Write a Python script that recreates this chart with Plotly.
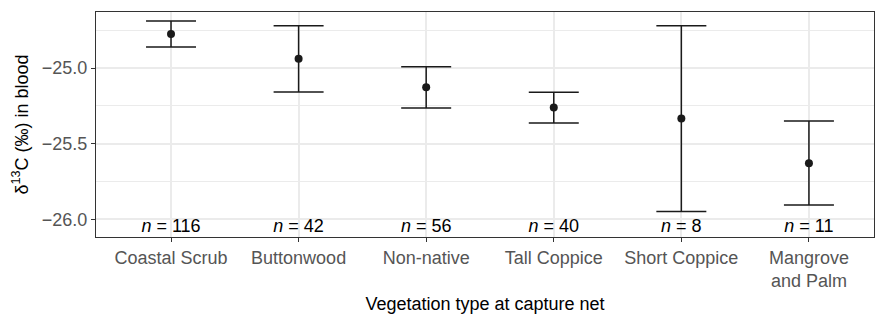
import plotly.graph_objects as go

categories = ["Coastal Scrub", "Buttonwood", "Non-native", "Tall Coppice", "Short Coppice", "Mangrove<br>and Palm"]
means = [-24.775, -24.938, -25.126, -25.260, -25.333, -25.629]
upper = [-24.689, -24.720, -24.991, -25.159, -24.720, -25.349]
lower = [-24.861, -25.157, -25.263, -25.362, -25.947, -25.905]
n_labels = [116, 42, 56, 40, 8, 11]
y_ticks = [-25.0, -25.5, -26.0]
y_minor = [-24.75, -25.25, -25.75]

xpos = list(range(1, len(categories) + 1))
err_plus = [u - m for u, m in zip(upper, means)]
err_minus = [m - l for m, l in zip(means, lower)]

FONT = "Liberation Sans, Arial, sans-serif"
INK = "#1a1a1a"
GRAY = "#555555"

fig = go.Figure()
fig.add_trace(go.Scatter(
    x=xpos, y=means, mode="markers",
    marker=dict(size=8, color=INK),
    error_y=dict(type="data", symmetric=False, array=err_plus, arrayminus=err_minus,
                 width=25, thickness=1.5, color=INK),
    showlegend=False, hoverinfo="skip",
))
fig.add_trace(go.Scatter(
    x=xpos, y=[-26.05] * len(xpos), mode="text",
    text=[f"<i>n</i> = {n}" for n in n_labels],
    textposition="middle center",
    textfont=dict(family=FONT, size=18, color="black"),
    showlegend=False, hoverinfo="skip",
))

fig.update_layout(
    width=875, height=314,
    margin=dict(l=96, r=1, t=12, b=77),
    paper_bgcolor="white", plot_bgcolor="white",
    font=dict(family=FONT, color="black"),
    xaxis=dict(
        range=[0.412, 6.51], tickvals=xpos, ticktext=categories,
        tickfont=dict(size=18, color=GRAY),
        ticks="outside", ticklen=4, tickwidth=1.1, tickcolor="#333333",
        showgrid=True, gridcolor="#EBEBEB", gridwidth=2,
        showline=True, linecolor="#333333", linewidth=1.1, mirror=True,
        zeroline=False, automargin=False,
        title=dict(text="Vegetation type at capture net", font=dict(size=18, color="black"), standoff=13),
    ),
    yaxis=dict(
        range=[-26.116, -24.629], tickvals=y_ticks,
        ticktext=[f"\u2212{abs(v):.1f}" for v in y_ticks],
        tickfont=dict(size=18, color=GRAY),
        ticks="outside", ticklen=4, tickwidth=1.1, tickcolor="#333333",
        showgrid=True, gridcolor="#EBEBEB", gridwidth=2,
        minor=dict(tickvals=y_minor, showgrid=True, gridcolor="#EBEBEB", gridwidth=1, ticks=""),
        showline=True, linecolor="#333333", linewidth=1.1, mirror=True,
        zeroline=False, automargin=False,
        title=dict(text="\u03b4<sup>13</sup>C (\u2030) in blood", font=dict(size=18, color="black"), standoff=8),
    ),
)

fig.write_html("out.html", config={"displayModeBar": False},
               post_script="document.body.style.margin='0';")
